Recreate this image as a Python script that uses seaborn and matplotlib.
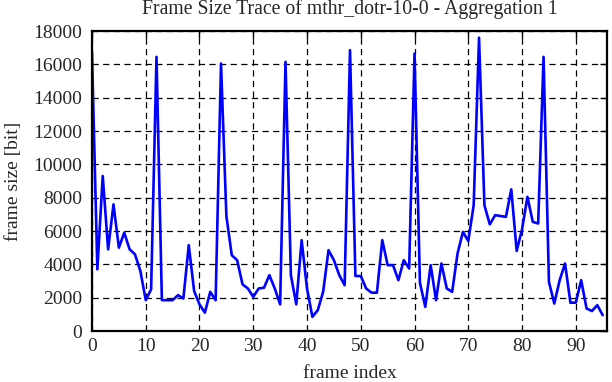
import matplotlib
matplotlib.use("Agg")
import matplotlib.pyplot as plt
import pandas as pd
import seaborn as sns

# frame sizes in bits
frame_size = [
    16700, 3700, 9300, 4900, 7600, 5000, 5900, 4900, 4600, 3600,
    1850, 2500, 16450, 1850, 1850, 1850, 2150, 1950, 5150, 2400,
    1600, 1100, 2350, 1850, 16050, 6900, 4550, 4250, 2800, 2550,
    2050, 2550, 2600, 3350, 2550, 1600, 16150, 3350, 1600, 5450,
    2550, 850, 1250, 2350, 4850, 4250, 3350, 2750, 16850, 3300,
    3300, 2550, 2300, 2300, 5450, 3950, 3950, 3050, 4250, 3750,
    16650, 2900, 1450, 3950, 1850, 4050, 2550, 2350, 4650, 5950,
    5400, 7550, 17600, 7550, 6400, 6950, 6900, 6850, 8500, 4800,
    6100, 8050, 6550, 6450, 16450, 2950, 1650, 3050, 4050, 1700,
    1700, 3050, 1350, 1200, 1550, 950,
]
frame_index = list(range(len(frame_size)))

x_ticks = list(range(0, 100, 10))
y_ticks = list(range(0, 18001, 2000))

df = pd.DataFrame({"frame index": frame_index, "frame size [bit]": frame_size})

sns.set_style("white")
plt.rcParams["font.family"] = ["Liberation Serif", "DejaVu Serif"]
plt.rcParams["font.size"] = 14

fig = plt.figure(figsize=(6.12, 3.82), dpi=100)
ax = fig.add_axes([0.1503, 0.1335, 0.8415, 0.7853])

sns.lineplot(data=df, x="frame index", y="frame size [bit]", color="#0000ff", linewidth=1.9, ax=ax)

ax.set_xlim(0, 95.8)
ax.set_ylim(0, 18000)
ax.set_xticks(x_ticks)
ax.set_yticks(y_ticks)
ax.grid(True, color="black", linestyle=(0, (5, 3.5)), linewidth=0.9)
ax.set_axisbelow(True)
for s in ax.spines.values():
    s.set_color("black")
    s.set_linewidth(1.6)
ax.tick_params(direction="in", length=5, width=1, color="black", top=True, right=True,
               labelsize=14)
ax.tick_params(axis="y", pad=7)
ax.tick_params(axis="x", pad=5)
ax.set_title("Frame Size Trace of mthr_dotr-10-0 - Aggregation 1", fontsize=14.2, pad=12)
ax.set_xlabel("frame index", fontsize=14, labelpad=7)
ax.set_ylabel("frame size [bit]", fontsize=14, labelpad=8)

fig.savefig("out.png", dpi=100)
